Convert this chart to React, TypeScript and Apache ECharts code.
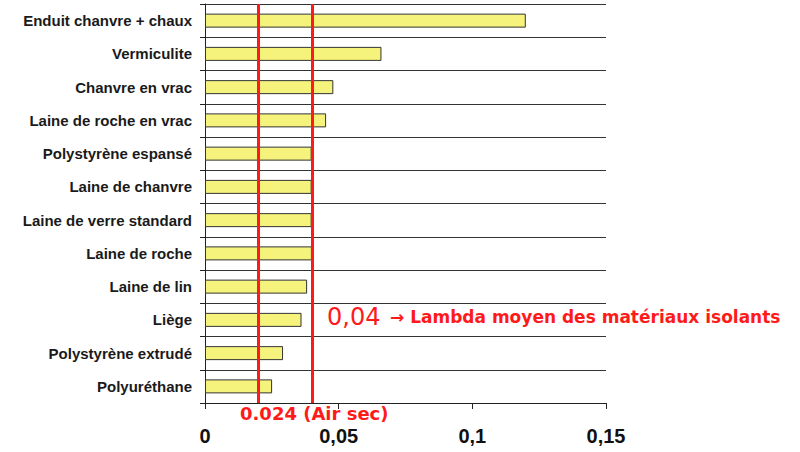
import React, { useRef, useEffect } from 'react'
import * as echarts from 'echarts'

// matériaux, du haut vers le bas
const categories = [
  'Enduit chanvre + chaux',
  'Vermiculite',
  'Chanvre en vrac',
  'Laine de roche en vrac',
  'Polystyrène espansé',
  'Laine de chanvre',
  'Laine de verre standard',
  'Laine de roche',
  'Laine de lin',
  'Liège',
  'Polystyrène extrudé',
  'Polyuréthane'
]

// conductivité thermique lambda (W/m.K)
const lambdaValues = [0.12, 0.066, 0.048, 0.0453, 0.0399, 0.0399, 0.0399, 0.04, 0.0382, 0.0361, 0.0292, 0.0251]

const xTicks = [0, 0.05, 0.1, 0.15]
const airLine = 0.0201
const avgLine = 0.041

const App: React.FC = () => {
  const chartRef = useRef<HTMLDivElement>(null)

  useEffect(() => {
    if (!chartRef.current) return
    const chart = echarts.init(chartRef.current, undefined, { renderer: 'svg' })

    const option = {
      animation: false,
      grid: { left: 205, right: 194, top: 4, bottom: 49 },
      xAxis: {
        type: 'value',
        min: xTicks[0],
        max: xTicks[xTicks.length - 1],
        interval: 0.05,
        axisLine: { show: true, lineStyle: { color: '#222', width: 1 } },
        axisTick: { show: true, length: 6, lineStyle: { color: '#222' } },
        axisLabel: {
          margin: 23,
          color: '#111',
          fontSize: 20,
          fontWeight: 'bold',
          fontFamily: 'Liberation Sans, Arial, sans-serif',
          formatter: (v: number) => String(Math.round(v * 100) / 100).replace('.', ',')
        },
        splitLine: { show: false }
      },
      yAxis: {
        type: 'category',
        inverse: true,
        data: categories,
        axisLine: { show: true, lineStyle: { color: '#222', width: 1 } },
        axisTick: { show: true, length: 5, lineStyle: { color: '#222' } },
        axisLabel: {
          margin: 13,
          color: '#1a1a1a',
          fontSize: 15,
          fontWeight: 'bold',
          fontFamily: 'Liberation Sans, Arial, sans-serif'
        },
        splitLine: { show: true, lineStyle: { color: '#333', width: 1 } }
      },
      series: [
        {
          type: 'bar',
          data: lambdaValues,
          barWidth: 14,
          itemStyle: { color: '#f5f37c', borderColor: '#333', borderWidth: 1 },
          markLine: {
            silent: true,
            symbol: 'none',
            label: { show: false },
            lineStyle: { color: '#ff1a1a', width: 3, type: 'solid' },
            data: [{ xAxis: airLine }, { xAxis: avgLine }]
          }
        }
      ],
      graphic: [
        {
          type: 'text',
          left: 327,
          top: 305,
          style: {
            text: '0,04',
            fill: '#ff1a1a',
            font: '24px "DejaVu Sans", sans-serif'
          }
        },
        {
          type: 'text',
          left: 390,
          top: 308,
          style: {
            text: '→ Lambda moyen des matériaux isolants',
            fill: '#ff1a1a',
            font: 'bold 17px "DejaVu Sans", sans-serif'
          }
        },
        {
          type: 'text',
          left: 240,
          top: 404,
          style: {
            text: '0.024 (Air sec)',
            fill: '#ff1a1a',
            font: 'bold 18px "DejaVu Sans", sans-serif'
          }
        }
      ]
    }

    chart.setOption(option)
    return () => {
      chart.dispose()
    }
  }, [])

  return (
    <div
      ref={chartRef}
      style={{ position: 'absolute', left: 0, top: 0, width: 800, height: 452, background: '#fff' }}
    />
  )
}

export default App
